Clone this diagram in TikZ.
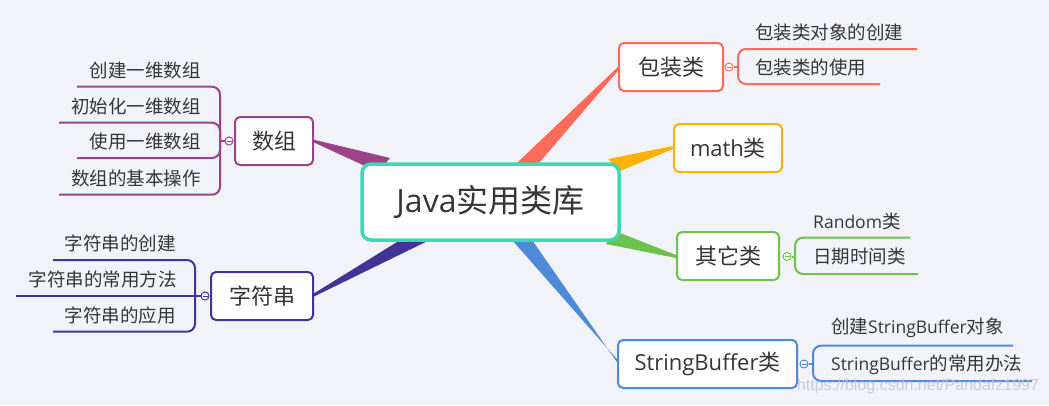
\documentclass[tikz,border=0pt]{standalone}
\usepackage{fontspec}
\setmainfont{Noto Sans CJK SC}
\newfontfamily\lat{Open Sans}
\newfontfamily\wmfont{Liberation Sans}
\newcommand\sublat[1]{{\lat\fontsize{17.5}{21}\selectfont #1}}
\definecolor{bg}{HTML}{F2F3F9}
\definecolor{cteal}{HTML}{3FD8B0}
\definecolor{cpurple}{HTML}{9A4389}
\definecolor{cindigo}{HTML}{433396}
\definecolor{csalmon}{HTML}{FF6B5B}
\definecolor{corange}{HTML}{FFB300}
\definecolor{cgreen}{HTML}{6CC24A}
\definecolor{cblue}{HTML}{4D8BD9}
\definecolor{txt}{HTML}{353535}
\definecolor{wm}{HTML}{C4C6CE}
\begin{document}
\begin{tikzpicture}[x=1pt,y=-1pt,
  topic/.style={draw=#1, line width=2pt, fill=white, rounded corners=5pt,
    minimum height=48pt, inner sep=0pt, text=txt, font=\fontsize{22}{26}\selectfont},
  centertopic/.style={draw=cteal, line width=3.5pt, fill=white, rounded corners=9pt,
    minimum width=257pt, minimum height=76pt, inner sep=0pt, text=txt,
    font=\fontsize{32}{38}\selectfont},
  marker/.style={circle, draw=#1, line width=1pt, fill=white, minimum size=8pt, inner sep=0pt},
  sub/.style={text=txt, inner sep=0pt, font=\fontsize{18.5}{22}\selectfont},
  subline/.style={draw=#1, line width=2pt, rounded corners=8pt},
]
\useasboundingbox[fill=bg] (0,0) rectangle (1049,405);

% tapered branches
\fill[cpurple] (313,139.5) -- (390,158) -- (378,172) -- (313,142) -- cycle;
\fill[cindigo] (313,294) -- (410,234) -- (442,234) -- (313,297) -- cycle;
\fill[csalmon] (620,65) -- (509.6,170) -- (533,170) -- (620,68.5) -- cycle;
\fill[corange] (673,146) -- (608,159) -- (620,171) -- (673,149) -- cycle;
\fill[cgreen] (676,255) -- (615,231) -- (606,244) -- (676,258) -- cycle;
\fill[cblue] (507.6,235) -- (619,361.5) -- (619,365) -- (528.5,235) -- cycle;

% central topic
\node[centertopic] (root) at (490.5,202) {{\lat Java}实用类库};

% main topics
\node[topic=cpurple, minimum width=78pt] (shuzu) at (274,141) {数组};
\node[topic=cindigo, minimum width=102pt] (zfc) at (262,296) {字符串};
\node[topic=csalmon, minimum width=104pt] (bzl) at (671,67) {包装类};
\node[topic=corange, minimum width=108pt] (math) at (728,148) {{\lat math}类};
\node[topic=cgreen, minimum width=102pt] (qtl) at (728,256) {其它类};
\node[topic=cblue, minimum width=179pt] (sb) at (707.5,364) {{\lat StringBuffer}类};

% ---- 数组 children
\coordinate (s1) at (220,141);
\coordinate (a1) at (77,86.7);
\coordinate (a2) at (59,122.7);
\coordinate (a3) at (77,158);
\coordinate (a4) at (59,194.7);
\node[marker=cpurple] (m1) at (229,141) {};
\draw[subline=cpurple] (m1.west) -- (s1);
\draw[subline=cpurple] (s1) |- (a1);
\draw[subline=cpurple] (s1) |- (a2);
\draw[subline=cpurple] (s1) |- (a3);
\draw[subline=cpurple] (s1) |- (a4);
\draw[cpurple, line width=1pt] ([xshift=2pt]m1.west) -- ([xshift=-2pt]m1.east);
\node[sub, anchor=east] (t1) at (201,70) {创建一维数组};
\node[sub, anchor=east] (t2) at (201,106) {初始化一维数组};
\node[sub, anchor=east] (t3) at (201,141) {使用一维数组};
\node[sub, anchor=east] (t4) at (201,178) {数组的基本操作};

% ---- 字符串 children
\coordinate (s2) at (195,296);
\coordinate (b1) at (53,260);
\coordinate (b2) at (16,296);
\coordinate (b3) at (53,331.7);
\node[marker=cindigo] (m2) at (205,296) {};
\draw[subline=cindigo] (s2) |- (b1);
\draw[subline=cindigo] (m2.west) -- (b2);
\draw[subline=cindigo] (s2) |- (b3);
\draw[cindigo, line width=1pt] ([xshift=2pt]m2.west) -- ([xshift=-2pt]m2.east);
\node[sub, anchor=east] (u1) at (176,243) {字符串的创建};
\node[sub, anchor=east] (u2) at (177,279) {字符串的常用方法};
\node[sub, anchor=east] (u3) at (176,315) {字符串的应用};

% ---- 包装类 children
\coordinate (s3) at (738,67);
\coordinate (c1) at (917,49);
\coordinate (c2) at (880,84);
\node[marker=csalmon] (m3) at (729,67) {};
\draw[subline=csalmon] (m3.east) -- (s3);
\draw[subline=csalmon] (s3) |- (c1);
\draw[subline=csalmon] (s3) |- (c2);
\draw[csalmon, line width=1pt] ([xshift=2pt]m3.west) -- ([xshift=-2pt]m3.east);
\node[sub, anchor=west] (v1) at (755,32) {包装类对象的创建};
\node[sub, anchor=west] (v2) at (755,67.5) {包装类的使用};

% ---- 其它类 children
\coordinate (s4) at (795,256.5);
\coordinate (d1) at (910,237.7);
\coordinate (d2) at (918,274);
\node[marker=cgreen] (m4) at (787,256.5) {};
\draw[subline=cgreen] (m4.east) -- (s4);
\draw[subline=cgreen] (s4) |- (d1);
\draw[subline=cgreen] (s4) |- (d2);
\draw[cgreen, line width=1pt] ([xshift=2pt]m4.west) -- ([xshift=-2pt]m4.east);
\node[sub, anchor=west] (w1) at (813,221) {\sublat{Random}类};
\node[sub, anchor=west] (w2) at (813,257) {日期时间类};

% ---- StringBuffer children
\coordinate (s5) at (813,364);
\coordinate (e1) at (1013,345.7);
\coordinate (e2) at (1032,381);
\node[marker=cblue] (m5) at (804,364) {};
\draw[subline=cblue] (m5.east) -- (s5);
\draw[subline=cblue] (s5) |- (e1);
\draw[subline=cblue] (s5) |- (e2);
\draw[cblue, line width=1pt] ([xshift=2pt]m5.west) -- ([xshift=-2pt]m5.east);
\node[sub, anchor=west] (x1) at (831,328) {创建\sublat{StringBuffer}对象};
\node[sub, anchor=west] (x2) at (831,365) {\sublat{StringBuffer}的常用办法};

% watermark
\node[text=wm, opacity=0.85, inner sep=0pt, font=\wmfont\fontsize{16}{19}\selectfont] (wmk) at (918,386) {https://blog.csdn.net/Pandafz1997};
\end{tikzpicture}
\end{document}
